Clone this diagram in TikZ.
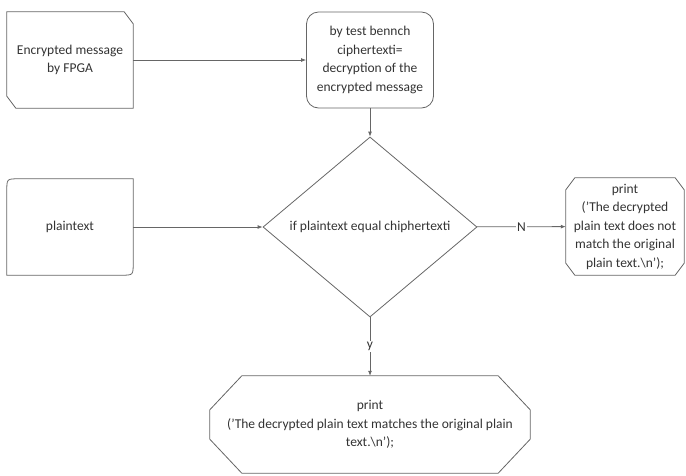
\documentclass[tikz,border=0pt]{standalone}
\usepackage{fontspec}
\setmainfont{Carlito}
\usetikzlibrary{shapes.geometric,arrows.meta}
\begin{document}
\begin{tikzpicture}[x=1pt,y=-1pt,
  txt/.style={inner sep=0pt,align=center,text=black!80,font=\fontsize{13.5}{18.5}\selectfont},
  box/.style={txt,minimum width=126pt,minimum height=96pt},
  ln/.style={draw=black!60,line width=0.8pt},
  arr/.style={ln,-{Latex[length=5pt,width=4pt]}},
  lbl/.style={txt,fill=white,inner sep=1.5pt}]
\useasboundingbox (0,0) rectangle (686,475);
% nodes
\node[box] (fpga) at (70,60) {Encrypted message\\by FPGA};
\node[box,ln,rounded corners=12pt,minimum width=127pt] (bench) at (370,60)
  {by test bennch\\ciphertexti=\\decryption of the\\encrypted message};
\node[box] (plain) at (70,227) {plaintext};
\node[txt,diamond,ln,aspect=1.19,minimum width=214pt,minimum height=180pt] (cond) at (370,227)
  {if plaintext equal chiphertexti};
\node[box,minimum width=118pt,minimum height=97pt] (nomatch) at (625,226.5)
  {print\\('The decrypted\\plain text does not\\match the original\\plain text.\textbackslash n');};
\node[box,minimum width=320pt,minimum height=97pt] (match) at (370,424.5)
  {print\\('The decrypted plain text matches the original plain\\text.\textbackslash n');};
% outlines
\draw[ln] (fpga.north west) -- ([xshift=-9pt]fpga.north east) -- ([yshift=-12pt]fpga.north east)
  -- (fpga.south east) -- ([xshift=9pt]fpga.south west) -- ([yshift=12pt]fpga.south west) -- cycle;
\draw[ln] (plain.north east) -- ([yshift=12pt]plain.south east)
  .. controls (plain.south east) .. ([xshift=-12pt]plain.south east) -- (plain.south west)
  -- ([yshift=-12pt]plain.north west) .. controls (plain.north west) .. ([xshift=12pt]plain.north west) -- cycle;
\draw[ln] ([xshift=9pt]nomatch.north west) -- ([xshift=-9pt]nomatch.north east) -- ([yshift=-12pt]nomatch.north east)
  -- ([yshift=12pt]nomatch.south east) -- ([xshift=-9pt]nomatch.south east) -- ([xshift=9pt]nomatch.south west)
  -- ([yshift=12pt]nomatch.south west) -- ([yshift=-12pt]nomatch.north west) -- cycle;
\draw[ln] ([xshift=32pt]match.north west) -- ([xshift=-32pt]match.north east) -- ([yshift=-34pt]match.north east)
  -- ([yshift=34pt]match.south east) -- ([xshift=-32pt]match.south east) -- ([xshift=32pt]match.south west)
  -- ([yshift=34pt]match.south west) -- ([yshift=-34pt]match.north west) -- cycle;
% connectors
\draw[arr] (fpga) -- (bench);
\draw[arr] (bench) -- (cond);
\draw[arr] (plain) -- (cond);
\draw[arr] (cond) -- node[lbl] {N} (nomatch);
\draw[arr] (cond) -- node[lbl] {y} (match);
\end{tikzpicture}
\end{document}
